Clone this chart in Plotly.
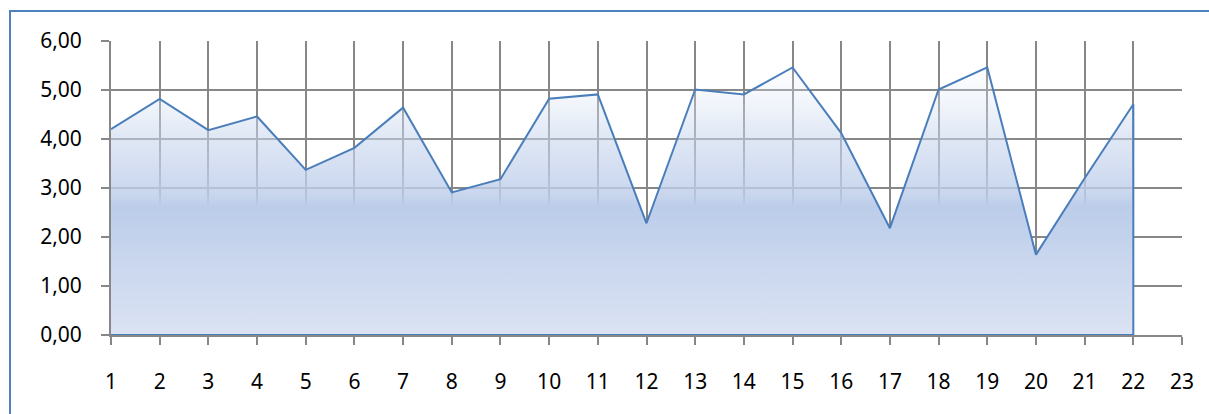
import plotly.graph_objects as go

categories = list(range(1, 23))
values = [4.20, 4.82, 4.18, 4.46, 3.37, 3.82, 4.64, 2.91, 3.18, 4.82, 4.91,
          2.28, 5.01, 4.91, 5.46, 4.12, 2.18, 5.01, 5.46, 1.64, 3.20, 4.71]
x_ticks = list(range(1, 24))
y_ticks = [0, 1, 2, 3, 4, 5, 6]

# closed polygon outline (Excel area chart border)
poly_x = categories + [categories[-1], categories[0]]
poly_y = values + [0, 0]

fig = go.Figure()
fig.add_trace(go.Scatter(
    x=poly_x, y=poly_y, mode="lines", fill="toself",
    line=dict(color="#4A7EBB", width=2),
    fillgradient=dict(
        type="vertical", start=0, stop=max(values),
        colorscale=[
            [0.0, "rgba(219,227,243,1)"],
            [0.48, "rgba(188,205,234,1)"],
            [0.52, "rgba(190,206,234,0.85)"],
            [0.75, "rgba(200,214,238,0.55)"],
            [1.0, "rgba(235,241,250,0.15)"],
        ],
    ),
    hoverinfo="skip", showlegend=False,
))

grid = "#878787"
font = dict(family="Noto Sans", size=21, color="#000000")
fig.update_xaxes(
    range=[1, 23], tickvals=x_ticks, ticktext=[str(t) for t in x_ticks],
    showgrid=True, gridcolor=grid, gridwidth=2,
    showline=True, linecolor=grid, linewidth=2,
    ticks="outside", ticklen=8, tickwidth=2, tickcolor=grid,
    ticklabelstandoff=19, tickfont=font, zeroline=False,
)
fig.update_yaxes(
    range=[0, 6], tickvals=y_ticks, tickformat=".2f",
    showgrid=True, gridcolor=grid, gridwidth=2,
    showline=True, linecolor=grid, linewidth=2, mirror=False,
    ticks="outside", ticklen=8, tickwidth=2, tickcolor=grid,
    ticklabelstandoff=15, tickfont=font, zeroline=False,
)

W, H = 1209, 414
L, R, T, B = 111, 27, 41, 79
pw, ph = W - L - R, H - T - B
fig.add_shape(type="rect", xref="paper", yref="paper",
              x0=(10 - L) / pw, x1=(W + 20 - L) / pw,
              y0=-(H + 20 - (H - B)) / ph, y1=((H - B) - 11) / ph,
              line=dict(color="#4F81BD", width=2), fillcolor="rgba(0,0,0,0)", layer="below")

fig.update_layout(
    width=W, height=H, separators=",.",
    margin=dict(l=L, r=R, t=T, b=B),
    paper_bgcolor="white", plot_bgcolor="white",
    showlegend=False,
)
fig.write_html("out.html")
